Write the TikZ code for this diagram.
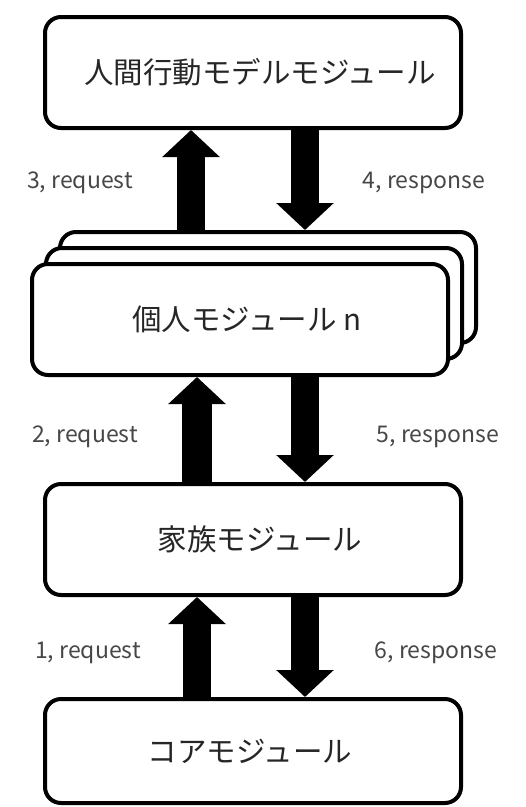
\documentclass[tikz,border=0pt]{standalone}
\usepackage{fontspec}
\setmainfont{Noto Sans CJK JP}
\usetikzlibrary{arrows.meta}
\begin{document}
\begin{tikzpicture}[x=1pt,y=-1pt,
  box/.style={draw=black, line width=4pt, rounded corners=16pt, fill=white,
    minimum width=416pt, minimum height=111pt, inner sep=0pt,
    font=\fontsize{29.5}{32}\selectfont, text=black!85},
  uparr/.style={line width=28pt, -{Triangle[width=56pt,length=27pt]}},
  lab/.style={font=\fontsize{23}{26}\selectfont, text=black!72}]
\useasboundingbox (0,0) rectangle (526,807);
\fill[white] (0,0) rectangle (526,807);
% boxes
\node[box] (top) at (253,72.5) {\hspace*{14pt}人間行動モデルモジュール};
\node[box] (back) at (268,287.5) {};
\node[box] (mid) at (254,303.5) {};
\node[box, minimum height=111pt] (front) at (240,319.5) {\hspace*{14pt}\raisebox{-6pt}{個人モジュール n}};
\node[box] (fam) at (253,539.5) {\hspace*{14pt}家族モジュール};
\node[box, minimum height=104pt] (core) at (253,751) {\hspace*{-6pt}コアモジュール};
% x positions
\coordinate (ua) at (191,0);
\coordinate (ub) at (197,0);
\coordinate (da) at (305,0);
% arrows
\draw[uparr] (back.north -| ua) -- (top.south -| ua);
\draw[uparr] (top.south -| da) -- (back.north -| da);
\draw[uparr, line width=30pt] (fam.north -| ub) -- (front.south -| ub);
\draw[uparr] (front.south -| da) -- (fam.north -| da);
\draw[uparr] (core.north -| ub) -- (fam.south -| ub);
\draw[uparr] (fam.south -| da) -- (core.north -| da);
% labels
\node[lab] (l3) at (80,183) {3, request};
\node[lab] (l4) at (424,183) {4, response};
\node[lab] (l2) at (85,437) {2, request};
\node[lab] (l5) at (438,437) {5, response};
\node[lab] (l1) at (88,653) {1, request};
\node[lab] (l6) at (436,653) {6, response};
\end{tikzpicture}
\end{document}
